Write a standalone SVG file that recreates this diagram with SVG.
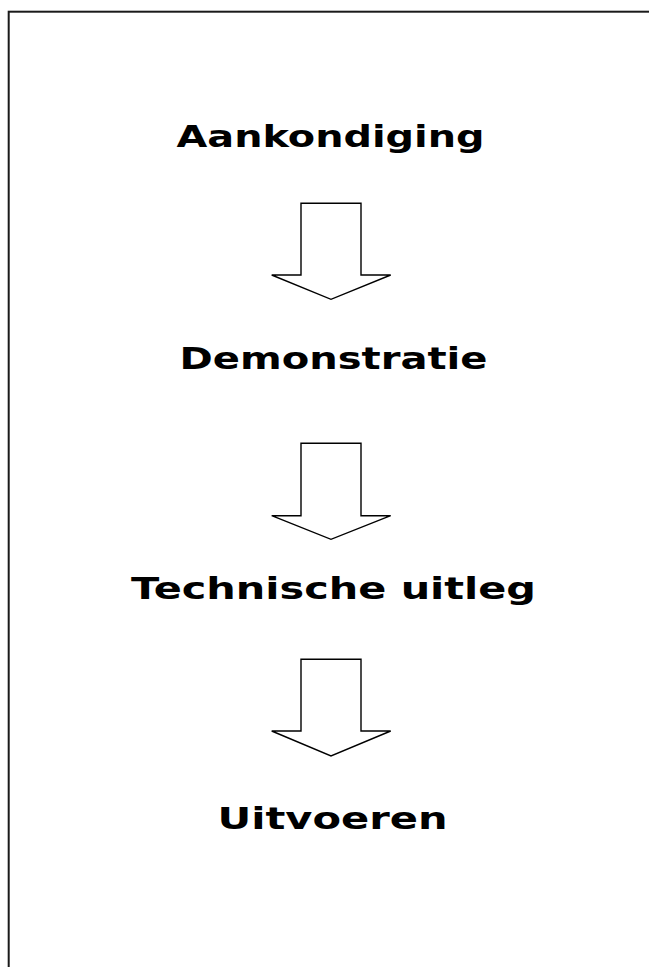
<svg xmlns="http://www.w3.org/2000/svg" width="649" height="967" viewBox="0 0 649 967">
<style>
.frame{fill:none;stroke:#1a1a1a;stroke-width:2}
.lbl{font-family:"DejaVu Sans",Verdana,sans-serif;font-weight:bold;font-size:31px;fill:#000;text-anchor:middle}
.arrow{fill:#fff;stroke:#000;stroke-width:1.4;stroke-linejoin:miter}
</style>
<rect width="649" height="967" fill="#fff"/>
<rect class="frame" x="8.7" y="11.7" width="700" height="1000"/>
<g id="node-aankondiging"><text class="lbl" x="330.5" y="146.7" textLength="308" lengthAdjust="spacingAndGlyphs">Aankondiging</text></g>
<g id="node-demonstratie"><text class="lbl" x="333.5" y="369.3" textLength="308" lengthAdjust="spacingAndGlyphs">Demonstratie</text></g>
<g id="node-technische-uitleg"><text class="lbl" x="333.5" y="599.3" textLength="405" lengthAdjust="spacingAndGlyphs">Technische uitleg</text></g>
<g id="node-uitvoeren"><text class="lbl" x="332.5" y="829.3" textLength="230" lengthAdjust="spacingAndGlyphs">Uitvoeren</text></g>
<g id="connectors">
<path class="arrow" d="M301,203.3 H361 V275 H390.7 L331,299.3 L271.7,275 H301 Z"/>
<path class="arrow" d="M301,443.3 H361 V515.7 H390.7 L331,539.3 L271.7,515.7 H301 Z"/>
<path class="arrow" d="M301,659.3 H361 V731 H390.7 L331,756 L271.7,731 H301 Z"/>
</g>
</svg>
